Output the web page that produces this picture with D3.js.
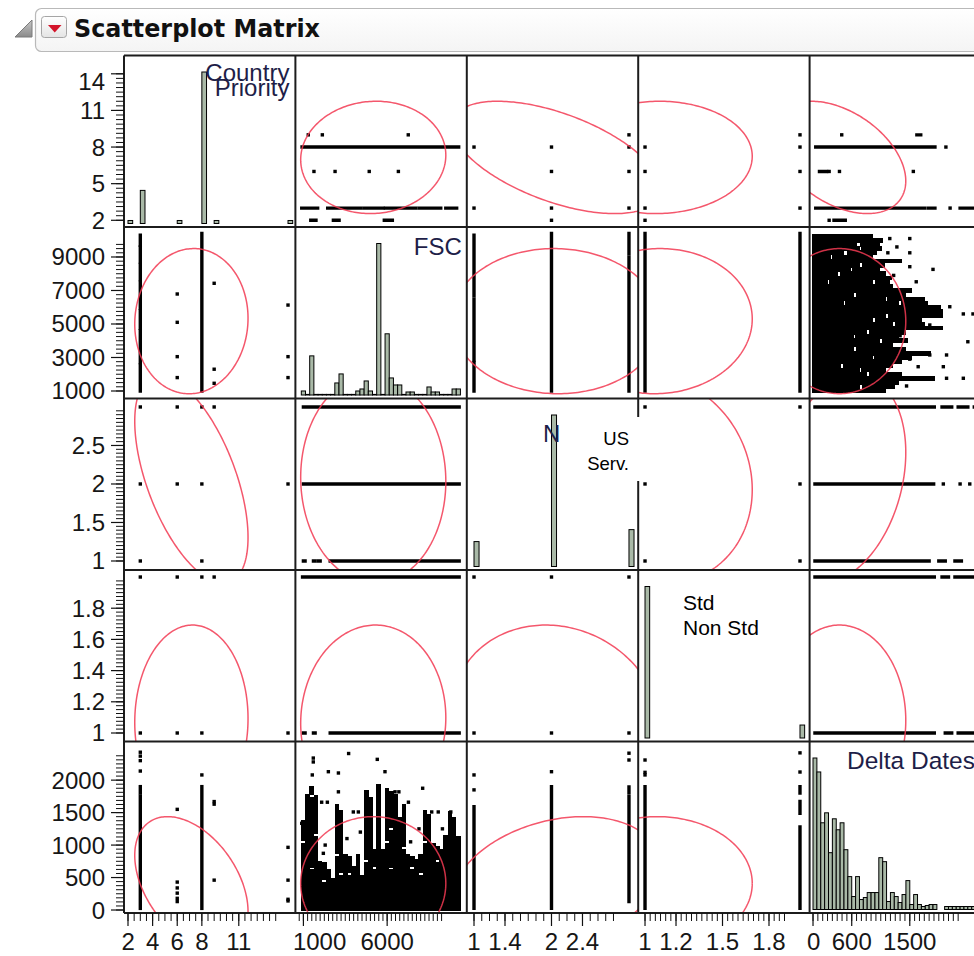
<!DOCTYPE html>
<html>
<head>
<meta charset="utf-8">
<script src="https://cdn.jsdelivr.net/npm/d3@7/dist/d3.min.js"></script>
<style>
html,body{margin:0;padding:0;background:#fff;}
svg{display:block;}
</style>
</head>
<body>
<svg id="chart" width="974" height="956"></svg>
<script>
// ================= DATA =================
const variables = ["Country Priority", "FSC", "N", "Std/Non Std", "Delta Dates"];
// axis domains per variable (x when in a column, y when in a row)
const xDomains = [[1.675, 15.6], [522, 10755], [0.907, 3.119], [0.956, 2.062], [-53, 2604]];
const yDomains = [[1.45, 15.5], [552, 10790], [0.883, 3.11], [0.9455, 2.045], [-46, 2595]];
// summary statistics used by the 95% density ellipses
const means = [7.15, 5170, 2.06, 1.08, 410];
const sds = [1.88, 1770, 0.55, 0.25, 420];
const correlations = [
  [1, 0.04, -0.56, 0.02, -0.42],
  [0.04, 1, -0.02, 0.03, 0],
  [-0.56, -0.02, 1, -0.10, 0.26],
  [0.02, 0.03, -0.10, 1, 0],
  [-0.42, 0, 0.26, 0, 1]
];
// tick labels
const bottomTickLabels = [[2, 4, 6, 8, 11], [1000, 6000], [1, 1.4, 2, 2.4], [1, 1.2, 1.5, 1.8], [0, 600, 1500]];
const leftTickLabels = [[2, 5, 8, 11, 14], [1000, 3000, 5000, 7000, 9000], [1, 1.5, 2, 2.5], [1, 1.2, 1.4, 1.6, 1.8], [0, 500, 1000, 1500, 2000]];
// minor ticks: [from, to, step]
const bottomMinorTicks = [[2, 14, 0.5], [750, 9250, 250], [1, 2.8, 0.1], [1, 1.9, 1 / 30], [0, 2250, 75]];
const leftMinorTicks = [[2, 14, 0.375], [1000, 9750, 250], [1, 2.95, 0.05], [1, 1.975, 0.025], [0, 2375, 62.5]];

// histograms on the diagonal
const cpBins = [2, 3, 6, 8, 9, 15];
const cpCounts = [3, 33, 3, 151, 3, 3];
const cpBinWidth = 0.38;
const fscBinStart = 875, fscBinWidth = 250;
const fscCounts = [4, 0, 39, 0, 0, 0, 0, 0, 12, 21, 0, 0, 0, 4, 6, 14, 4, 0, 151, 0, 61, 17, 10, 10, 0, 3, 3, 0, 0, 0, 8, 3, 3, 0, 0, 0, 6, 6];
const nBins = [1, 2, 3];
const nCounts = [25, 152, 37];
const nBinWidth = 0.065;
const stdBins = [1, 2];
const stdCounts = [152, 13];
const stdBinWidth = 0.03;
const ddBinStart = 0, ddBinWidth = 60;
const ddCounts = [152, 138, 87, 97, 57, 91, 80, 87, 60, 33, 13, 33, 10, 12, 17, 17, 17, 52, 48, 8, 17, 13, 7, 15, 29, 5, 15, 5, 3, 4, 5, 5, null, null, 3, 3, 3, 3, 3, 3, 3, 3];

// single points: [row, col, xValue, yValue]
const scatterPoints = [
  [0,1,1290,9],[0,1,2130,9],[0,1,7260,9],[0,1,1630,6],[0,1,2890,6],[0,1,4930,6],[0,1,6670,6],
  [0,2,1,8],[0,2,1,3],[0,2,2,8],[0,2,2,6],[0,2,2,3],[0,2,2,2],[0,2,3,9],[0,2,3,8],[0,2,3,6],[0,2,3,3],
  [0,3,1,8],[0,3,1,6],[0,3,1,3],[0,3,1,2],[0,3,2,9],[0,3,2,8],[0,3,2,6],[0,3,2,3],
  [0,4,445,9],[0,4,2060,8],[0,4,250,6],[0,4,410,6],[0,4,1555,6],[0,4,2125,3],[0,4,250,2],
  [1,0,6,6790],[1,0,6,5100],[1,0,6,3050],[1,0,6,1800],[1,0,9,7430],[1,0,9,2300],[1,0,9,1460],
  [1,0,15,6130],[1,0,15,3050],[1,0,15,1800],
  [1,4,1190,10100],[1,4,1500,10100],[1,4,1160,9250],[1,4,1500,9250],[1,4,1500,8420],[1,4,1860,8260],
  [1,4,1600,7520],[1,4,2120,6030],[1,4,2330,5600],[1,4,2480,5600],[1,4,1810,4940],[1,4,2400,3940],
  [1,4,1810,3150],[1,4,2070,3150],[1,4,1630,2450],[1,4,2020,2450],[1,4,2070,1760],[1,4,2330,1760],
  [1,4,1300,9600],[1,4,1250,7900],[1,4,1350,4300],[1,4,1500,2900],[1,4,1450,1300],
  [2,0,3,3],[2,0,6,3],[2,0,8,3],[2,0,9,3],[2,0,3,2],[2,0,6,2],[2,0,8,2],[2,0,15,2],[2,0,3,1],[2,0,8,1],
  [2,3,1,3],[2,3,1,2],[2,3,1,1],[2,3,2,3],[2,3,2,2],[2,3,2,1],
  [2,4,2020,2],[2,4,2280,2],[2,4,2430,2],
  [3,0,3,2],[3,0,6,2],[3,0,8,2],[3,0,9,2],[3,0,3,1],[3,0,6,1],[3,0,8,1],[3,0,15,1],
  [3,2,1,2],[3,2,2,2],[3,2,3,2],[3,2,1,1],[3,2,2,1],[3,2,3,1],
  [4,0,3,2140],[4,0,3,2300],[4,0,3,2370],[4,0,3,2430],[4,0,6,1550],[4,0,6,430],[4,0,6,340],[4,0,6,260],
  [4,0,6,180],[4,0,6,130],[4,0,8,2080],[4,0,9,1670],[4,0,9,1630],[4,0,9,460],
  [4,0,15,965],[4,0,15,460],[4,0,15,165],[4,0,15,140],
  [4,1,3700,2410],[4,1,5410,2320],[4,1,1590,2340],[4,1,1590,2280],[4,1,1530,2080],[4,1,2490,2130],
  [4,1,3090,2110],[4,1,5870,2130],[4,1,3090,1820],[4,1,6470,1820],[4,1,6700,1820],[4,1,8120,1875],
  [4,1,2090,1660],[4,1,2430,1660],[4,1,7270,1660],[4,1,3980,1510],[4,1,4280,1510],[4,1,8660,1510],
  [4,1,9050,1510],[4,1,9800,1510],[4,1,900,1335],[4,1,2190,873],
  [4,1,2300,1000],[4,1,3600,1100],[4,1,4400,1200],[4,1,7400,1050],[4,1,7900,1250],[4,1,9300,1250],
  [4,2,1,1850],[4,2,1,2080],[4,2,2,2130],[4,2,3,2310],[4,2,3,2415],
  [4,3,1,2080],[4,3,1,2120],[4,3,1,2310],[4,3,2,2125],[4,3,2,2420]
];
// runs of overlapping points along x: [row, col, yValue, xFrom, xTo]
const horizontalRuns = [
  [0,1,8,920,10270],[0,1,3,900,1850],[0,1,3,2450,4450],[0,1,3,4650,5750],[0,1,3,5900,7700],[0,1,3,7900,9200],
  [0,1,3,9500,10150],[0,1,2,1440,1750],[0,1,2,2790,3130],[0,1,2,5830,6310],
  [0,4,9,1610,1670],[0,4,8,42,1890],[0,4,6,100,210],[0,4,3,42,1735],[0,4,3,1790,1890],[0,4,3,2280,2480],[0,4,2,325,500],
  [2,1,3,1000,10300],[2,1,2,1000,10300],[2,1,1,1000,1100],[2,1,1,1600,1700],[2,1,1,1900,2000],[2,1,1,2600,10300],
  [2,4,3,30,1880],[2,4,3,2000,2150],[2,4,3,2250,2400],[2,4,3,2500,2560],[2,4,2,30,1870],
  [2,4,1,30,1800],[2,4,1,1950,2050],[2,4,1,2200,2300],
  [3,1,2,950,10300],[3,1,1,1000,1100],[3,1,1,1600,1700],[3,1,1,2600,10300],
  [3,4,2,30,1880],[3,4,2,2000,2100],[3,4,2,2200,2550],[3,4,1,30,1880],[3,4,1,2050,2150],[3,4,1,2250,2550]
];
// runs of overlapping points along y: [row, col, xValue, yFrom, yTo]
const verticalRuns = [
  [1,0,3,1000,2550],[1,0,3,2700,4600],[1,0,3,4750,5800],[1,0,3,5950,7500],[1,0,3,7650,8550],[1,0,3,8700,9600],
  [1,0,3,9700,10300],[1,0,8,1000,10400],
  [1,2,1,1000,2700],[1,2,1,2850,6500],[1,2,1,6700,8600],[1,2,1,8800,10300],[1,2,2,1000,10400],
  [1,2,3,1000,4000],[1,2,3,4200,9000],[1,2,3,9200,10400],
  [1,3,1,1000,10400],[1,3,2,1000,10400],
  [4,0,3,25,1750],[4,0,3,1800,1900],[4,0,8,25,1900],
  [4,2,1,25,1590],[4,2,2,25,1900],[4,2,3,130,1745],[4,2,3,1800,1895],
  [4,3,1,25,1900],[4,3,2,25,1280],[4,3,2,1490,1670],[4,3,2,1800,1900]
];
// dense FSC x Delta Dates cloud, row 1 / col 4: [FSC, ddFrom, ddTo]
const denseFscRows = [
  [10250,20,520],[10250,600,900],[10000,20,300],[10000,380,1050],[9750,20,650],[9750,760,1000],
  [9500,20,700],[9500,780,1040],[9250,20,450],[9250,560,950],[9000,20,250],[9000,330,900],
  [8750,20,1340],[8500,20,700],[8500,800,1080],[8250,20,550],[8250,640,1000],[8000,20,350],[8000,450,1100],
  [7750,20,1190],[7500,20,200],[7500,280,900],[7500,1000,1150],[7250,20,800],[7250,880,1200],
  [7000,20,1500],[6750,20,600],[6750,700,1400],[6500,20,1100],[6500,1180,1700],[6250,20,450],[6250,530,1300],
  [6250,1400,1750],[6000,20,1950],[5750,20,1980],[5500,20,1100],[5500,1200,1980],
  [5250,20,900],[5250,990,1650],[5000,20,1200],[5000,1300,1700],[4750,20,1980],[4500,20,800],[4500,900,1400],
  [4250,20,600],[4250,680,1300],[4000,20,1000],[4000,1100,1430],[3750,20,300],[3750,380,1200],
  [3500,20,600],[3500,700,1400],[3250,20,1790],[3000,20,900],[3000,980,1500],
  [2750,20,1340],[2500,20,400],[2500,500,1200],[2250,20,700],[2250,780,1100],[2000,20,800],[2000,900,1340],
  [1750,20,1860],[1500,20,500],[1500,580,1300],[1250,20,700],[1250,800,1240],[1000,20,1100]
];
// dense Delta Dates x FSC cloud, row 4 / col 1: [FSC, ddFrom, ddTo]
const denseFscCols = [
  [1000,20,300],[1000,380,1000],[1000,1100,1350],[1250,20,900],[1250,980,1750],[1500,20,600],[1500,680,1700],
  [1500,1800,1880],[1750,20,1100],[1750,1200,1740],[2000,20,720],[2250,20,400],[2250,500,700],
  [2500,20,300],[2500,380,600],[2750,20,450],[3000,20,800],[3000,900,1590],[3250,20,500],[3250,600,1500],
  [3500,20,820],[3750,20,500],[3750,600,800],[4000,20,350],[4000,420,650],[4250,20,820],[4500,20,500],
  [4750,20,700],[4750,800,1820],[5000,20,1100],[5000,1180,1700],[5250,20,600],[5250,700,900],
  [5500,20,450],[5500,520,1900],[5750,20,900],[6000,20,1000],[6000,1100,1850],[6250,20,600],
  [6250,680,1200],[6250,1300,1800],[6500,20,1745],[6750,20,300],[6750,380,1400],[7000,20,900],
  [7000,1000,1600],[7250,20,820],[7500,20,600],[7500,700,800],[7750,20,750],[8000,20,500],[8000,600,820],
  [8250,20,1000],[8250,1100,1510],[8500,20,1450],[8750,20,1000],[9000,20,700],[9000,800,950],
  [9250,20,900],[9500,20,1120],[9750,20,700],[9750,780,1490],[10000,20,1400],[10250,20,1100]
];
const diagLabels = [["Country", "Priority"], ["FSC"], ["N"], [], ["Delta Dates"]];
const overlayTextN = ["US", "Serv."];
const overlayTextStd = ["Std", "Non Std"];
const titleText = "Scatterplot Matrix";

// ================= LAYOUT =================
const N = variables.length;
const X0 = 124, Y0 = 55.5, W = 171.4, H = 171.5;
const colLeft = j => X0 + j * W;
const rowTop = i => Y0 + i * H;
const FONT = "'Liberation Sans', Arial, Helvetica, sans-serif";
const xs = xDomains.map((d, j) => d3.scaleLinear().domain(d).range([colLeft(j), colLeft(j) + W]));
const ys = yDomains.map((d, i) => d3.scaleLinear().domain(d).range([rowTop(i) + H, rowTop(i)]));

const svg = d3.select("#chart");
const defs = svg.append("defs");

function vgrad(id, c1, c2) {
  const g = defs.append("linearGradient").attr("id", id).attr("x1", 0).attr("y1", 0).attr("x2", 0).attr("y2", 1);
  g.append("stop").attr("offset", "0%").attr("stop-color", c1);
  g.append("stop").attr("offset", "100%").attr("stop-color", c2);
}
vgrad("hdrGrad", "#ffffff", "#f4f4f4");
vgrad("btnGrad", "#ffffff", "#e4e4e4");
vgrad("triGrad", "#c8c8c8", "#8a8a8a");

// ---------- header ----------
svg.append("rect").attr("x", 35.5).attr("y", 8.5).attr("width", 970).attr("height", 43).attr("rx", 6)
  .attr("fill", "url(#hdrGrad)").attr("stroke", "#b9b9b9").attr("stroke-width", 1.2);
svg.append("polygon").attr("points", "15,37 32,37 32,20")
  .attr("fill", "url(#triGrad)").attr("stroke", "#7a7a7a").attr("stroke-width", 1);
svg.append("rect").attr("x", 41.5).attr("y", 16.5).attr("width", 25).attr("height", 21).attr("rx", 3)
  .attr("fill", "url(#btnGrad)").attr("stroke", "#a5a5a5");
svg.append("polygon").attr("points", "48,25 61.5,25 54.75,32.5").attr("fill", "#d3142a");
svg.append("text").attr("x", 74).attr("y", 37).attr("font-family", "'DejaVu Sans', Verdana, sans-serif")
  .attr("font-weight", "bold").attr("font-size", 24).attr("fill", "#111")
  .attr("textLength", 246).attr("lengthAdjust", "spacingAndGlyphs").text(titleText);

// ---------- clip paths ----------
for (let i = 0; i < N; i++) for (let j = 0; j < N; j++) {
  defs.append("clipPath").attr("id", `clip${i}${j}`).append("rect")
    .attr("x", colLeft(j)).attr("y", rowTop(i)).attr("width", W).attr("height", H);
}
const cellG = {};
const marks = svg.append("g");
for (let i = 0; i < N; i++) for (let j = 0; j < N; j++) {
  cellG[`${i}-${j}`] = marks.append("g").attr("clip-path", `url(#clip${i}${j})`);
}

const MS = 3.4;
// points
scatterPoints.forEach(([r, c, xv, yv]) => {
  cellG[`${r}-${c}`].append("rect")
    .attr("x", xs[c](xv) - MS / 2).attr("y", ys[r](yv) - MS / 2)
    .attr("width", MS).attr("height", MS).attr("fill", "#000");
});
function hRun(r, c, yv, x1, x2, sw, crisp) {
  cellG[`${r}-${c}`].append("line")
    .attr("x1", xs[c](x1)).attr("x2", xs[c](x2)).attr("y1", ys[r](yv)).attr("y2", ys[r](yv))
    .attr("stroke", "#000").attr("stroke-width", sw).attr("stroke-linecap", "square")
    .attr("shape-rendering", crisp ? "crispEdges" : null);
}
function vRun(r, c, xv, y1, y2, sw, crisp) {
  cellG[`${r}-${c}`].append("line")
    .attr("x1", xs[c](xv)).attr("x2", xs[c](xv)).attr("y1", ys[r](y1)).attr("y2", ys[r](y2))
    .attr("stroke", "#000").attr("stroke-width", sw).attr("stroke-linecap", "square")
    .attr("shape-rendering", crisp ? "crispEdges" : null);
}
horizontalRuns.forEach(([r, c, yv, a, b]) => hRun(r, c, yv, a, b, MS, false));
verticalRuns.forEach(([r, c, xv, a, b]) => vRun(r, c, xv, a, b, MS, false));
denseFscRows.forEach(([f, a, b]) => hRun(1, 4, f, a, b, 4.6, true));
denseFscCols.forEach(([f, a, b]) => vRun(4, 1, f, a, b, 4.6, true));

// density ellipses
const C95 = Math.sqrt(5.991);
for (let i = 0; i < N; i++) for (let j = 0; j < N; j++) {
  if (i === j) continue;
  const r = correlations[i][j];
  const pts = d3.range(0, 241).map(k => {
    const t = k / 240 * 2 * Math.PI;
    const xv = means[j] + C95 * sds[j] * Math.cos(t);
    const yv = means[i] + C95 * sds[i] * (r * Math.cos(t) + Math.sqrt(1 - r * r) * Math.sin(t));
    return [xs[j](xv), ys[i](yv)];
  });
  cellG[`${i}-${j}`].append("path").attr("d", d3.line()(pts))
    .attr("fill", "none").attr("stroke", "#f23a52").attr("stroke-width", 1.5).attr("stroke-opacity", 0.85);
}

// ---------- histograms ----------
const hists = [
  { bins: cpBins, counts: cpCounts, width: cpBinWidth },
  { bins: fscCounts.map((_, k) => fscBinStart + k * fscBinWidth), counts: fscCounts, width: fscBinWidth },
  { bins: nBins, counts: nCounts, width: nBinWidth },
  { bins: stdBins, counts: stdCounts, width: stdBinWidth },
  { bins: ddCounts.map((_, k) => ddBinStart + k * ddBinWidth), counts: ddCounts, width: ddBinWidth }
];
hists.forEach((h, k) => {
  const maxC = d3.max(h.counts);
  const hy = d3.scaleLinear().domain([0, maxC]).range([rowTop(k) + H - 3.5, rowTop(k) + 16.5]);
  const g = cellG[`${k}-${k}`];
  h.bins.forEach((b, m) => {
    const c = h.counts[m];
    if (c === null) return;
    const x1 = xs[k](b), x2 = xs[k](b + h.width);
    const top = hy(c), base = hy(0);
    g.append("rect").attr("x", x1).attr("y", Math.min(top, base - 0.6))
      .attr("width", Math.max(x2 - x1, 0.5)).attr("height", Math.max(base - top, 0.6))
      .attr("fill", "#a9b9a7").attr("stroke", "#000").attr("stroke-width", 1);
  });
});

// ---------- grid ----------
const grid = svg.append("g").attr("stroke", "#1c1c1c").attr("stroke-width", 2);
for (let j = 0; j <= N; j++) grid.append("line").attr("x1", colLeft(j)).attr("x2", colLeft(j)).attr("y1", Y0).attr("y2", rowTop(N));
for (let i = 0; i <= N; i++) grid.append("line").attr("x1", X0).attr("x2", colLeft(N)).attr("y1", rowTop(i)).attr("y2", rowTop(i));

// ---------- axes ----------
const axes = svg.append("g");
const AX_B = rowTop(N);
for (let j = 0; j < N; j++) {
  const [a, b, s] = bottomMinorTicks[j];
  d3.range(0, Math.round((b - a) / s) + 1).map(k => a + k * s).forEach(v => {
    axes.append("line").attr("x1", xs[j](v)).attr("x2", xs[j](v)).attr("y1", AX_B).attr("y2", AX_B + 8)
      .attr("stroke", "#111").attr("stroke-width", 1);
  });
  bottomTickLabels[j].forEach(v => {
    const x = xs[j](v);
    axes.append("line").attr("x1", x).attr("x2", x).attr("y1", AX_B).attr("y2", AX_B + 13)
      .attr("stroke", "#111").attr("stroke-width", 1.2);
    const t = axes.append("text").attr("x", x).attr("y", 950).attr("text-anchor", "middle")
      .attr("font-family", FONT).attr("font-size", 24).attr("fill", "#161616").text(v);
    const w = t.node().getComputedTextLength();
    if (x - w / 2 < colLeft(j) - 2.5) t.attr("x", colLeft(j) - 2.5 + w / 2);
  });
}
for (let i = 0; i < N; i++) {
  const [a, b, s] = leftMinorTicks[i];
  d3.range(0, Math.round((b - a) / s) + 1).map(k => a + k * s).forEach(v => {
    axes.append("line").attr("x1", X0 - 8).attr("x2", X0).attr("y1", ys[i](v)).attr("y2", ys[i](v))
      .attr("stroke", "#111").attr("stroke-width", 1);
  });
  leftTickLabels[i].forEach(v => {
    const y = ys[i](v);
    axes.append("line").attr("x1", X0 - 13).attr("x2", X0).attr("y1", y).attr("y2", y)
      .attr("stroke", "#111").attr("stroke-width", 1.2);
    const ly = Math.max(y, rowTop(i) + 26);
    axes.append("text").attr("x", 105).attr("y", ly + 8.5).attr("text-anchor", "end")
      .attr("font-family", FONT).attr("font-size", 24).attr("fill", "#161616").text(v);
  });
}

// ---------- diagonal labels ----------
const lab = svg.append("g").attr("font-family", FONT).attr("font-size", 24).attr("fill", "#1e1e48");
lab.append("text").attr("x", colLeft(1) - 6).attr("y", 81).attr("text-anchor", "end").text(diagLabels[0][0]);
lab.append("text").attr("x", colLeft(1) - 6).attr("y", 96).attr("text-anchor", "end").text(diagLabels[0][1]);
lab.append("text").attr("x", colLeft(2) - 5).attr("y", rowTop(1) + 28).attr("text-anchor", "end").text(diagLabels[1][0]);
lab.append("text").attr("x", 543).attr("y", 442).text(diagLabels[2][0]);
lab.append("text").attr("x", colLeft(5) - 6).attr("y", rowTop(4) + 27).attr("text-anchor", "end").attr("font-size", 24.5).text(diagLabels[4][0]);

// overlay boxes
svg.append("rect").attr("x", 576).attr("y", 417).attr("width", 74).attr("height", 64).attr("fill", "#fff");
overlayTextN.forEach((s, k) => svg.append("text").attr("x", 629).attr("y", 445 + k * 25).attr("text-anchor", "end")
  .attr("font-family", FONT).attr("font-size", 18.5).attr("fill", "#000").text(s));
svg.append("rect").attr("x", 660).attr("y", 581).attr("width", 145).attr("height", 66).attr("fill", "#fff");
overlayTextStd.forEach((s, k) => svg.append("text").attr("x", 683).attr("y", 610 + k * 25)
  .attr("font-family", FONT).attr("font-size", 21).attr("fill", "#000").text(s));
</script>
</body>
</html>
